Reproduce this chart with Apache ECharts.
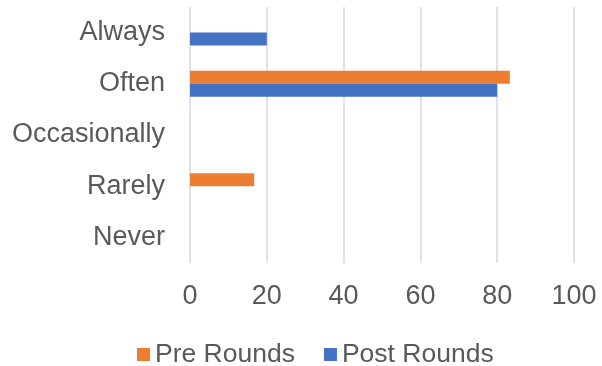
<!DOCTYPE html>
<html>
<head>
<meta charset="utf-8">
<script src="https://cdn.jsdelivr.net/npm/echarts@6/dist/echarts.min.js"></script>
<style>
  html, body { margin: 0; padding: 0; background: #fff; }
  #chart { width: 602px; height: 366px; }
</style>
</head>
<body>
<div id="chart"></div>
<script>
const categories = ['Always', 'Often', 'Occasionally', 'Rarely', 'Never']
const preRounds = [0, 83.3, 0, 16.7, 0]
const postRounds = [20, 80, 0, 0, 0]
const xTicks = { min: 0, max: 100, interval: 20 }

const textColor = '#595959'
const chart = echarts.init(document.getElementById('chart'))

chart.setOption({
  animation: false,
  grid: { left: 190, right: 28, top: 7, bottom: 103 },
  legend: {
    data: ['Pre Rounds', 'Post Rounds'],
    left: 132,
    top: 336,
    icon: 'rect',
    itemWidth: 13,
    itemHeight: 13,
    itemGap: 29,
    textStyle: { color: textColor, fontSize: 26.5, fontFamily: 'Liberation Sans' },
  },
  xAxis: {
    type: 'value',
    min: xTicks.min,
    max: xTicks.max,
    interval: xTicks.interval,
    axisLine: { show: false },
    axisTick: { show: false },
    axisLabel: { color: textColor, fontSize: 27, fontFamily: 'Liberation Sans', margin: 20 },
    splitLine: { lineStyle: { color: '#d9d9d9', width: 1.5 } },
  },
  yAxis: {
    type: 'category',
    data: categories,
    inverse: true,
    axisLine: { show: false },
    axisTick: { show: false },
    axisLabel: { color: textColor, fontSize: 27, fontFamily: 'Liberation Sans', margin: 25 },
  },
  series: [
    { name: 'Pre Rounds', type: 'bar', data: preRounds, barWidth: 13, barGap: '0%', itemStyle: { color: '#ED7D31' } },
    { name: 'Post Rounds', type: 'bar', data: postRounds, barWidth: 13, barGap: '0%', itemStyle: { color: '#4472C4' } },
  ],
})
</script>
</body>
</html>
